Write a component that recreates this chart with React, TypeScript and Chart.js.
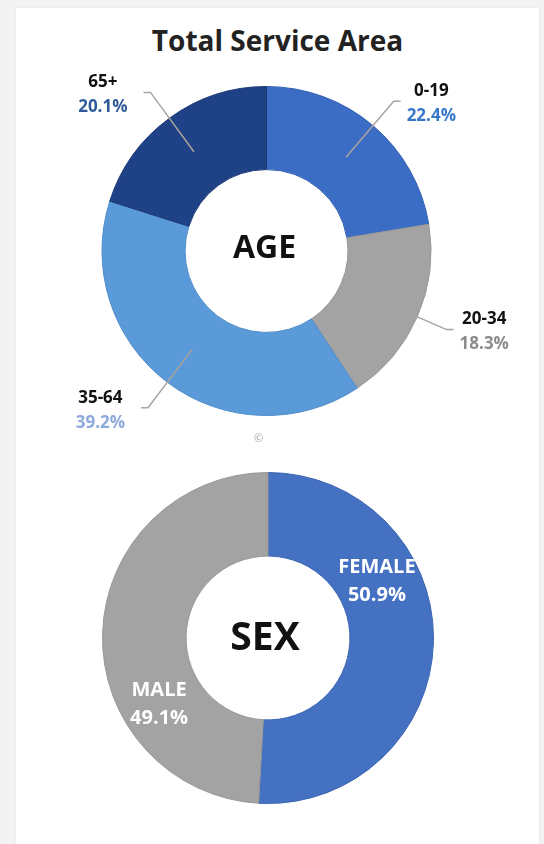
import React, { useEffect, useRef } from 'react';
import { Chart, registerables } from 'chart.js';

Chart.register(...registerables);

const chartTitle = 'Total Service Area';

const ageCategories = ['0-19', '20-34', '35-64', '65+'];
const ageValues = [22.4, 18.3, 39.2, 20.1];
const ageColors = ['#3c6dc5', '#a3a3a3', '#5a9ad8', '#1f4185'];
const ageBorderColors = ['#3462b4', '#989898', '#4f8cca', '#1a3874'];
const agePctColors = ['#3578c9', '#8c8c8c', '#8ea9dc', '#2f5b9b'];
const ageCenterLabel = 'AGE';

const sexCategories = ['FEMALE', 'MALE'];
const sexValues = [50.9, 49.1];
const sexColors = ['#4471c2', '#a3a3a3'];
const sexBorderColors = ['#3b65b0', '#989898'];
const sexCenterLabel = 'SEX';

const FONT = '"Open Sans", "Noto Sans", sans-serif';

const fmtPct = (v: number) => v.toFixed(1) + '%';

function arcProps(el: any) {
  return el.getProps(['x', 'y', 'startAngle', 'endAngle', 'innerRadius', 'outerRadius'], true);
}

const ageLabelPlugin = {
  id: 'ageLabels',
  afterDraw(chart: any) {
    const ctx = chart.ctx as CanvasRenderingContext2D;
    const meta = chart.getDatasetMeta(0);
    let cx0 = 0;
    let cy0 = 0;
    ctx.save();
    meta.data.forEach((el: any, i: number) => {
      const { x, y, startAngle, endAngle, innerRadius, outerRadius } = arcProps(el);
      cx0 = x;
      cy0 = y;
      const mid = (startAngle + endAngle) / 2;
      const r0 = (innerRadius + outerRadius) / 2;
      const r1 = outerRadius + 32;
      const sx = x + r0 * Math.cos(mid);
      const sy = y + r0 * Math.sin(mid);
      const ex = x + r1 * Math.cos(mid);
      const ey = y + r1 * Math.sin(mid);
      const side = Math.cos(mid) >= 0 ? 1 : -1;
      const hx = ex + side * 7;
      ctx.strokeStyle = '#aaa49f';
      ctx.lineWidth = 1.5;
      ctx.beginPath();
      ctx.moveTo(sx, sy);
      ctx.lineTo(ex, ey);
      ctx.lineTo(hx, ey);
      ctx.stroke();

      ctx.font = `bold 17px ${FONT}`;
      ctx.textAlign = 'center';
      ctx.textBaseline = 'middle';
      const l1 = ageCategories[i];
      const l2 = fmtPct(ageValues[i]);
      const w = Math.max(ctx.measureText(l1).width, ctx.measureText(l2).width);
      const gap = side > 0 ? 6 : 16;
      const tx = hx + side * (gap + w / 2);
      ctx.fillStyle = '#111111';
      ctx.fillText(l1, tx, ey - 10);
      ctx.fillStyle = agePctColors[i];
      ctx.fillText(l2, tx, ey + 15);
    });
    ctx.font = `bold 32px ${FONT}`;
    ctx.fillStyle = '#111111';
    ctx.textAlign = 'center';
    ctx.textBaseline = 'middle';
    ctx.fillText(ageCenterLabel, cx0 - 2, cy0 - 2);
    ctx.restore();
  },
};

const sexLabelPlugin = {
  id: 'sexLabels',
  afterDraw(chart: any) {
    const ctx = chart.ctx as CanvasRenderingContext2D;
    const meta = chart.getDatasetMeta(0);
    let cx0 = 0;
    let cy0 = 0;
    ctx.save();
    meta.data.forEach((el: any, i: number) => {
      const { x, y, startAngle, endAngle } = arcProps(el);
      cx0 = x;
      cy0 = y;
      const mid = (startAngle + endAngle) / 2 - (31 * Math.PI) / 180;
      const r = 125;
      const tx = x + r * Math.cos(mid);
      const ty = y + r * Math.sin(mid) + 5;
      ctx.font = `bold 20px ${FONT}`;
      ctx.textAlign = 'center';
      ctx.textBaseline = 'middle';
      ctx.fillStyle = '#ffffff';
      ctx.fillText(sexCategories[i], tx, ty - 14);
      ctx.fillText(fmtPct(sexValues[i]), tx, ty + 14);
    });
    ctx.font = `bold 39px ${FONT}`;
    ctx.fillStyle = '#111111';
    ctx.textAlign = 'center';
    ctx.textBaseline = 'middle';
    ctx.fillText(sexCenterLabel, cx0 - 3, cy0 + 1);
    ctx.restore();
  },
};

function makeDonut(
  canvas: HTMLCanvasElement,
  labels: string[],
  values: number[],
  colors: string[],
  borders: string[],
  padding: { left: number; right: number; top: number; bottom: number },
  plugin: any
) {
  return new Chart(canvas, {
    type: 'doughnut',
    data: {
      labels,
      datasets: [
        {
          data: values,
          backgroundColor: colors,
          borderColor: borders,
          borderWidth: 1,
          hoverOffset: 0,
        },
      ],
    },
    options: {
      animation: false,
      responsive: false,
      maintainAspectRatio: false,
      devicePixelRatio: 1,
      cutout: '49.5%',
      events: [],
      layout: { padding },
      plugins: {
        legend: { display: false },
        tooltip: { enabled: false },
        title: { display: false },
      },
    },
    plugins: [plugin],
  });
}

export default function App() {
  const ageRef = useRef<HTMLCanvasElement>(null);
  const sexRef = useRef<HTMLCanvasElement>(null);

  useEffect(() => {
    const a = makeDonut(
      ageRef.current!,
      ageCategories,
      ageValues,
      ageColors,
      ageBorderColors,
      { left: 101.5, right: 112.5, top: 86, bottom: 24 },
      ageLabelPlugin
    );
    const s = makeDonut(
      sexRef.current!,
      sexCategories,
      sexValues,
      sexColors,
      sexBorderColors,
      { left: 102, right: 110, top: 32, bottom: 40 },
      sexLabelPlugin
    );
    return () => {
      a.destroy();
      s.destroy();
    };
  }, []);

  return (
    <div
      style={{
        position: 'fixed',
        left: 0,
        top: 0,
        width: 544,
        height: 844,
        background: '#f3f3f3',
        overflow: 'hidden',
      }}
    >
      <div
        style={{
          position: 'absolute',
          left: 16,
          top: 8,
          width: 523,
          height: 860,
          background: '#ffffff',
          boxShadow: '0 0 4px rgba(0,0,0,0.06)',
        }}
      />
      <div
        style={{
          position: 'absolute',
          left: 16,
          width: 523,
          top: 26,
          textAlign: 'center',
          fontFamily: FONT,
          fontWeight: 700,
          fontSize: 28,
          lineHeight: 1,
          color: '#222222',
        }}
      >
        {chartTitle}
      </div>
      <canvas
        ref={ageRef}
        width={544}
        height={440}
        style={{ position: 'absolute', left: 0, top: 0, width: 544, height: 440 }}
      />
      <div
        style={{
          position: 'absolute',
          left: 254,
          top: 432,
          fontFamily: FONT,
          fontSize: 11,
          color: '#a0a0a0',
          lineHeight: 1,
        }}
      >
        ©
      </div>
      <canvas
        ref={sexRef}
        width={544}
        height={404}
        style={{ position: 'absolute', left: 0, top: 440, width: 544, height: 404 }}
      />
    </div>
  );
}
